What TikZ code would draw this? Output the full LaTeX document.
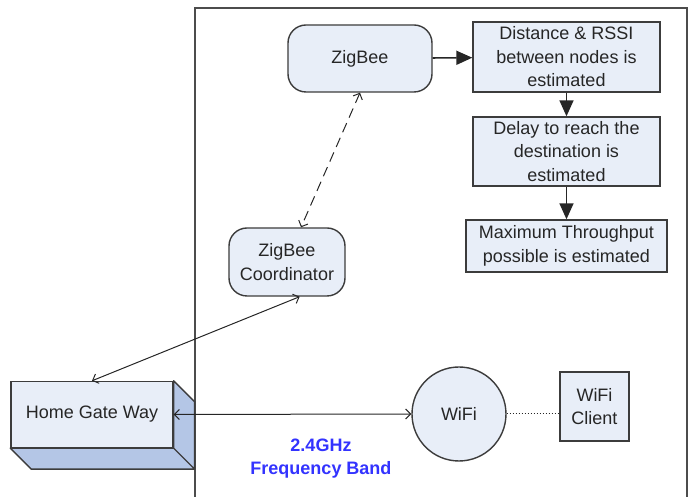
\documentclass[tikz,border=0pt]{standalone}
\usepackage{fontspec}
\setmainfont{Liberation Sans}
\usetikzlibrary{positioning, arrows.meta, calc}
\definecolor{boxfill}{HTML}{E8EEF8}
\definecolor{boxside}{HTML}{B4C6E6}
\definecolor{boxline}{HTML}{3C3C3C}
\definecolor{bandblue}{HTML}{3333FF}
\tikzset{
    every node/.style={font=\fontsize{9}{11.75}\selectfont, text=black!85},
    proc/.style={ % plain boxes of the estimation steps
        draw=boxline, line width=0.7pt, fill=boxfill,
        align=center, inner sep=0pt
    },
    radio/.style={ % rounded boxes for the ZigBee parts
        proc, rounded corners=9pt
    },
    link/.style={draw=black!85, line width=0.5pt},
    flow/.style={link, line width=0.8pt, -{Triangle[length=8pt,width=7pt]}}, % filled heads
    twoway/.style={link, {Straight Barb[length=2.5pt,width=5pt]}-{Straight Barb[length=2.5pt,width=5pt]}}
}
\begin{document}
\begin{tikzpicture}[x=0.5pt, y=-0.5pt]
    \useasboundingbox (0,0) rectangle (693,497);
    % frame, open at the bottom
    \draw[black!70, line width=0.6pt] (195,497) -- (195,8) -- (687,8) -- (687,497);

    \node[radio, minimum width=72pt, minimum height=33.5pt]   (zigbee) at (360,58.5)  {ZigBee};
    \node[radio, minimum width=58pt, minimum height=34pt]     (coord)  at (287,262)   {ZigBee\\Coordinator};
    \node[proc, minimum width=93.5pt, minimum height=35pt]    (dist)   at (566.5,57)  {Distance \& RSSI\\between nodes is\\estimated};
    \node[proc, minimum width=93.5pt, minimum height=34.5pt]  (delay)  at (566.5,151.5) {Delay to reach the\\destination is\\estimated};
    \node[proc, minimum width=100.5pt, minimum height=26pt]   (maxtp)  at (566.5,246) {Maximum Throughput\\possible is estimated};
    \node[proc, circle, minimum size=47pt]                    (wifi)   at (459,414)   {WiFi};
    \node[proc, minimum width=34.5pt, minimum height=34.5pt]  (client) at (594.5,406.5) {WiFi\\Client};
    \node[text=bandblue, font=\bfseries\fontsize{9}{11.5}\selectfont, align=center]
                                                              (band)   at (321,459)   {2.4GHz\\Frequency Band};

    % home gate way, drawn as a block
    \node[proc, minimum width=81pt, minimum height=33pt]      (hgw)    at (92,414.5)  {Home Gate Way};
    \filldraw[fill=boxside, draw=boxline, line width=0.7pt, line join=round]
        (hgw.north east) -- ++(21,21) -- ($(hgw.south east)+(21,21)$) -- (hgw.south east) -- cycle
        (hgw.south west) -- ++(21,21) -- ($(hgw.south east)+(21,21)$) -- (hgw.south east) -- cycle;

    \draw   (zigbee) edge[flow]  (dist)
            (dist.south) edge[flow]  (delay.north)
            (delay.south) edge[flow]  (delay.south |- maxtp.north)
    ;
    \draw[twoway, dashed, dash pattern=on 5pt off 3pt] (zigbee.south) -- (coord.68);
    \draw[twoway] (coord.-70) -- (hgw.north);
    \draw[twoway] (hgw.east) -- (wifi.west);
    \draw[link, densely dotted] (wifi.east) -- (wifi.east -| client.west);
\end{tikzpicture}
\end{document}
